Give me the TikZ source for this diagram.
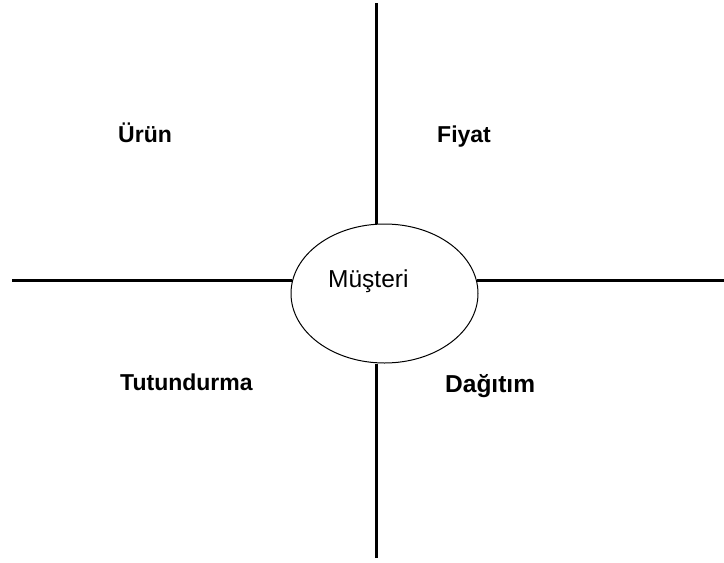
\documentclass[tikz,border=0pt]{standalone}
\usepackage{fontspec}
\setmainfont{Liberation Sans}
\usetikzlibrary{shapes.geometric}
\begin{document}
\begin{tikzpicture}[x=1pt,y=-1pt,
  axis/.style={line width=3pt},
  lab/.style={font=\fontsize{23}{23}\selectfont\bfseries, anchor=base west, inner sep=0pt},
  hub/.style={ellipse, draw, line width=1pt, minimum width=187pt, minimum height=139pt, inner sep=0pt}]
\useasboundingbox (0,0) rectangle (724,563);
\node[hub] (c) at (384.5,293.5) {};
\node[anchor=base west, inner sep=0pt, font=\fontsize{24.5}{24.5}\selectfont] (m) at (328,287) {Müşteri};
\coordinate (top) at (376,3);
\coordinate (bot) at (376,558);
\coordinate (lft) at (12,280);
\coordinate (rgt) at (724,280);
\draw[axis] (top) -- (top |- c.north);
\draw[axis] (bot) -- (bot |- c.south);
\draw[axis] (lft) -- ([xshift=1.8pt]lft -| c.west);
\draw[axis] (rgt) -- ([xshift=-1.8pt]rgt -| c.east);
\node[lab] (u) at (118,142) {Ürün};
\node[lab] (f) at (437,142) {Fiyat};
\node[lab] (t) at (120,390) {Tutundurma};
\node[lab, font=\fontsize{24.5}{24.5}\selectfont\bfseries] (d) at (445,392) {Dağıtım};
\end{tikzpicture}
\end{document}
